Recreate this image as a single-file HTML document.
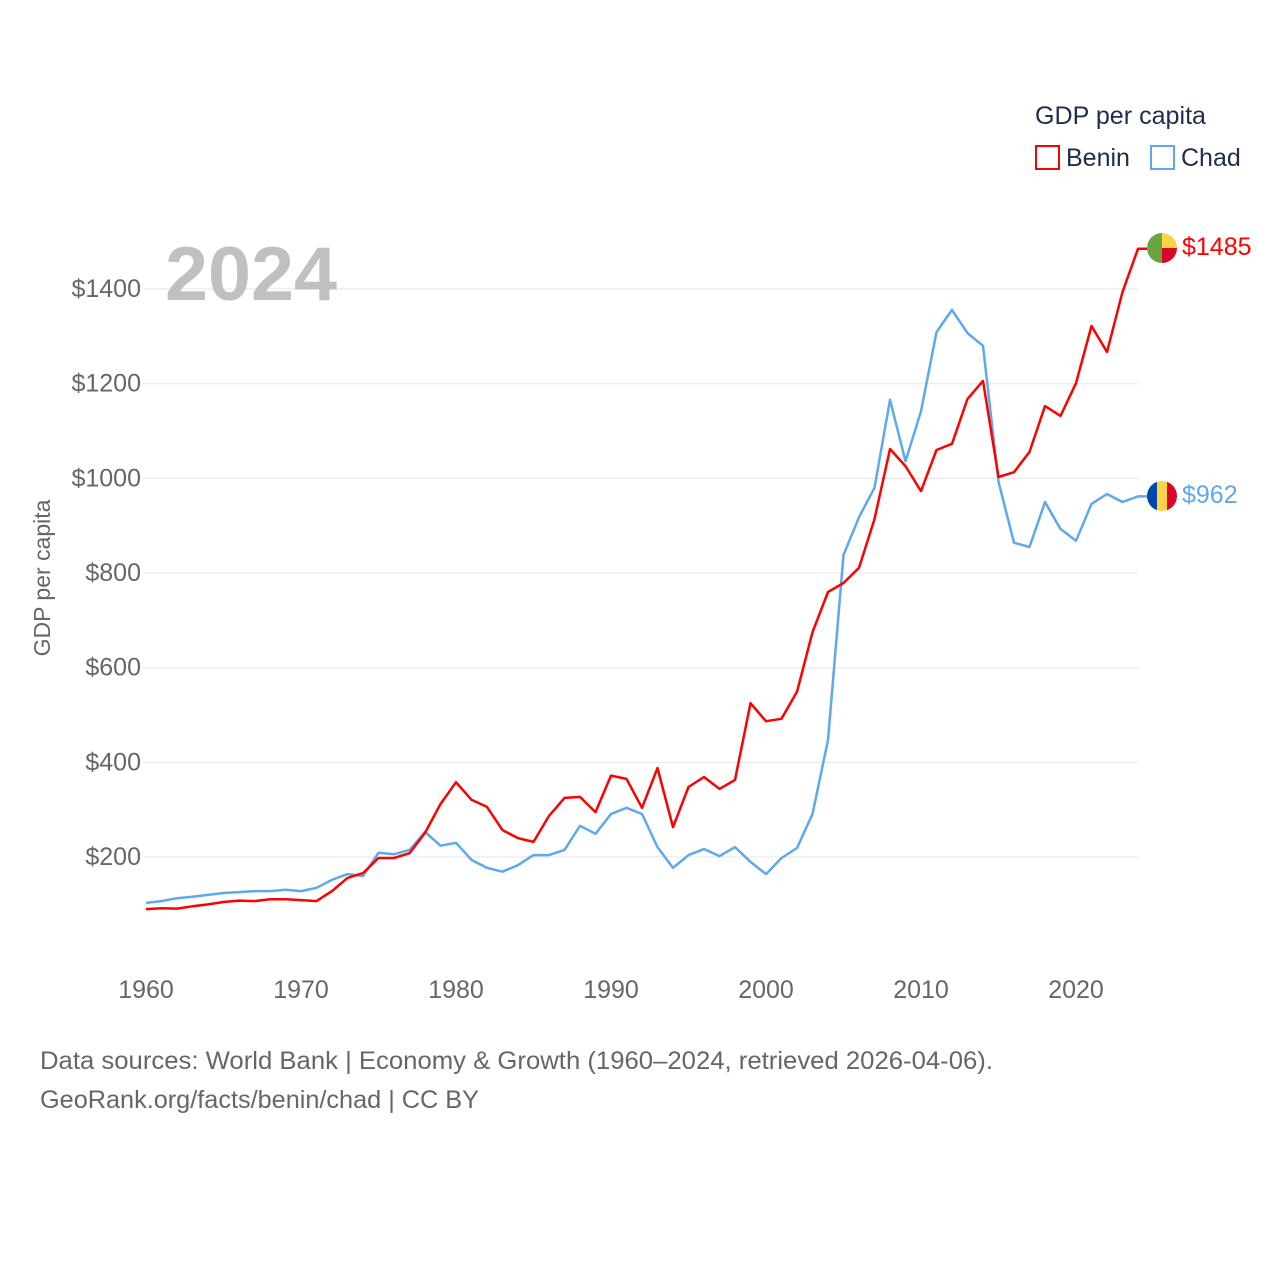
<!DOCTYPE html>
<html><head><meta charset="utf-8"><style>
body{margin:0;background:#fff;font-family:"Liberation Sans",sans-serif}
svg text{font-family:"Liberation Sans",sans-serif}
</style></head><body>
<svg id="chart" width="1280" height="1280" xmlns="http://www.w3.org/2000/svg">
<g id="grid"></g>
<g id="yticks"></g>
<g id="xticks"></g>
<text x="165" y="300" font-size="76" font-weight="bold" fill="#c0c0c0" textLength="172" lengthAdjust="spacingAndGlyphs">2024</text>
<text transform="translate(50,578) rotate(-90)" text-anchor="middle" font-size="23" fill="#666">GDP per capita</text>
<g id="series"></g>
<g>
<text x="1035" y="124" font-size="25" fill="#1f2d4d" textLength="171" lengthAdjust="spacingAndGlyphs">GDP per capita</text>
<rect x="1036" y="146" width="23" height="23" fill="none" stroke="#ff0000" stroke-width="2"/>
<text x="1066" y="166" font-size="25" fill="#1f2d4d">Benin</text>
<rect x="1151" y="146" width="23" height="23" fill="none" stroke="#5ea8ee" stroke-width="2"/>
<text x="1181" y="166" font-size="25" fill="#1f2d4d">Chad</text>
</g>
<g>
<clipPath id="c1"><circle cx="1162" cy="248" r="15"/></clipPath>
<g clip-path="url(#c1)"><rect x="1147" y="233" width="15" height="30" fill="#6aa342"/><rect x="1162" y="233" width="15" height="15" fill="#fcd445"/><rect x="1162" y="248" width="15" height="15" fill="#d9062a"/></g>
</g>
<text x="1182" y="255" font-size="25" fill="#ff0000">$1485</text>
<g>
<clipPath id="c2"><circle cx="1162" cy="496" r="15"/></clipPath>
<g clip-path="url(#c2)"><rect x="1147" y="481" width="10" height="30" fill="#0047ab"/><rect x="1157" y="481" width="10" height="30" fill="#fcd445"/><rect x="1167" y="481" width="10" height="30" fill="#d9062a"/></g>
</g>
<text x="1182" y="503" font-size="25" fill="#5ea8ee">$962</text>
<text x="40" y="1069" font-size="25" fill="#666" textLength="953" lengthAdjust="spacingAndGlyphs">Data sources: World Bank | Economy &amp; Growth (1960–2024, retrieved 2026-04-06).</text>
<text x="40" y="1108" font-size="25" fill="#666" textLength="439" lengthAdjust="spacingAndGlyphs">GeoRank.org/facts/benin/chad | CC BY</text>
</svg>
<script>
const startYear = 1960;
const yTicks = [200,400,600,800,1000,1200,1400];
const xTicks = [1960,1970,1980,1990,2000,2010,2020];
const benin = [90,92,91,96,100,105,108,107,111,111,109,107,128,156,166,198,198,208,251,312,358,321,306,257,240,232,287,325,327,295,372,365,304,388,263,348,369,344,363,525,487,492,549,675,760,779,811,914,1062,1026,973,1060,1073,1168,1206,1003,1013,1056,1153,1132,1201,1322,1267,1394,1485];
const chad = [103,107,113,116,120,124,126,128,128,131,128,135,152,164,160,209,206,215,253,224,230,194,177,169,183,204,204,215,266,249,291,304,291,221,177,204,217,202,221,190,164,198,219,291,447,838,918,980,1166,1036,1142,1309,1356,1307,1280,993,864,855,950,893,868,946,967,950,962];
const NS="http://www.w3.org/2000/svg";
const xs = yr => 146 + (yr-1960)*15.5;
const ys = v => 951.7 - v*0.47333;
function mk(tag, attrs, parent){const e=document.createElementNS(NS,tag);for(const k in attrs)e.setAttribute(k,attrs[k]);parent.appendChild(e);return e;}
const grid=document.getElementById('grid'), yt=document.getElementById('yticks'), xt=document.getElementById('xticks'), ser=document.getElementById('series');
yTicks.forEach(v=>{
  const l=mk('line',{x1:143,x2:1138,y1:ys(v),y2:ys(v),stroke:'#e6e6e6','stroke-width':1},grid);
  
  
  const t=mk('text',{x:141,y:ys(v)+8,'text-anchor':'end','font-size':25,fill:'#666'},yt);
  
  
  t.textContent='$'+v;
});
xTicks.forEach(yr=>{
  const t=mk('text',{x:xs(yr),y:998,'text-anchor':'middle','font-size':25,fill:'#666'},xt);
  
  
  t.textContent=yr;
});
function line(arr,color,name){
  let d=arr.map((v,i)=>(i?'L':'M')+xs(startYear+i).toFixed(1)+','+ys(v).toFixed(1)).join(' ');
  const last=arr[arr.length-1];
  d+=' L1147,'+ys(last).toFixed(1);
  const p=mk('path',{d:d,fill:'none',stroke:color,'stroke-width':2.5,'stroke-linejoin':'round'},ser);
  
  
}
line(chad,'#5ea8ee','chad-line');
line(benin,'#ff0000','benin-line');
</script>
</body></html>
